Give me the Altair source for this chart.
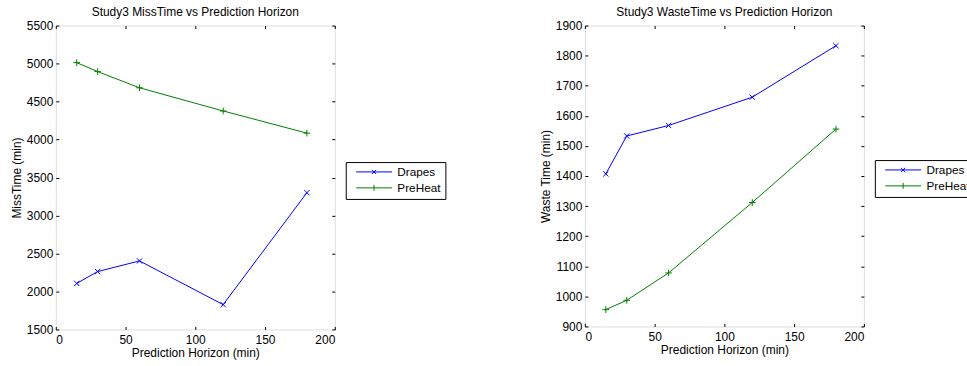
import altair as alt
import pandas as pd

# Prediction horizons (minutes) shared by both studies
horizon = [15, 30, 60, 120, 180]
series_names = ["Drapes", "PreHeat"]
series_colors = ["#0000ff", "#008000"]

# Study3 miss time (min)
miss_drapes = [2106, 2262, 2402, 1827, 3300]
miss_preheat = [5012, 4894, 4681, 4376, 4084]

# Study3 waste time (min)
waste_drapes = [1407, 1533, 1568, 1662, 1833]
waste_preheat = [956, 987, 1078, 1312, 1556]

FONT = "Liberation Sans"

# marker glyphs (unit square paths)
X_MARK = "M-1,-1L1,1M-1,1L1,-1"
PLUS_MARK = "M-1,0L1,0M0,-1L0,1"
# legend keys: a line segment with the marker in the middle (drawn wider than the
# nominal symbol box so the legend rows stay compact)
X_KEY = "M-3.6,0L3.6,0M-0.42,-0.42L0.42,0.42M-0.42,0.42L0.42,-0.42"
PLUS_KEY = "M-3.6,0L3.6,0M0,-0.6L0,0.6"
markers = [(X_MARK, 28), (PLUS_MARK, 44)]

TICK = 3


def panel(drapes, preheat, title, ytitle, ydomain, ystep, height, legend_y):
    df = pd.DataFrame({
        "horizon": horizon * 2,
        "value": drapes + preheat,
        "series": [series_names[0]] * len(horizon) + [series_names[1]] * len(horizon),
    })
    xs = alt.Scale(domain=[0, 200], nice=False, zero=False)
    ys = alt.Scale(domain=ydomain, nice=False, zero=False)
    yticks = list(range(ydomain[0], ydomain[1] + 1, ystep))
    xticks = [0, 50, 100, 150, 200]

    common_axis = dict(
        grid=False, domain=False, tickSize=TICK, offset=-TICK, tickColor="black",
        labelFont=FONT, labelFontSize=12, labelColor="black", format="d",
        titleFont=FONT, titleFontSize=12, titleFontWeight="normal", titleColor="black",
    )
    base = alt.Chart(df)

    layers = []
    for i, name in enumerate(series_names):
        sub = base.transform_filter(alt.datum.series == name)
        if i == 0:
            xenc = alt.X("horizon:Q", scale=xs, axis=alt.Axis(
                values=xticks, title="Prediction Horizon (min)", labelPadding=5, titlePadding=2,
                **common_axis))
            yenc = alt.Y("value:Q", scale=ys, axis=alt.Axis(
                values=yticks, title=ytitle, labelPadding=3, titlePadding=3, **common_axis))
        else:
            xenc = alt.X("horizon:Q", scale=xs, axis=None)
            yenc = alt.Y("value:Q", scale=ys, axis=None)
        layers.append(sub.mark_line(strokeWidth=1, color=series_colors[i]).encode(x=xenc, y=yenc))
        shape, size = markers[i]
        layers.append(sub.mark_point(
            shape=shape, size=size, filled=False, strokeWidth=1, opacity=1, color=series_colors[i]
        ).encode(x=alt.X("horizon:Q", scale=xs, axis=None), y=alt.Y("value:Q", scale=ys, axis=None)))

    legend_spec = dict(
        title=None, orient="none", legendX=280 + 11, legendY=legend_y,
        strokeColor="black", fillColor="white", padding=4,
        symbolSize=100, symbolStrokeWidth=1, symbolOpacity=1, symbolOffset=18.5,
        labelFont=FONT, labelFontSize=11.8, labelColor="black",
        labelOffset=17.5, rowPadding=3,
    )
    # invisible layer carrying the legend and the mirrored top/right tick axes
    legend_layer = base.mark_point(opacity=0, filled=False, strokeWidth=1, size=100).encode(
        x=alt.X("horizon:Q", scale=xs, axis=alt.Axis(
            orient="top", values=xticks, labels=False, title=None, **common_axis)),
        y=alt.Y("value:Q", scale=ys, axis=alt.Axis(
            orient="right", values=yticks, labels=False, title=None, **common_axis)),
        color=alt.Color("series:N", scale=alt.Scale(domain=series_names, range=series_colors),
                        legend=alt.Legend(**legend_spec)),
        shape=alt.Shape("series:N", scale=alt.Scale(domain=series_names, range=[X_KEY, PLUS_KEY]),
                        legend=alt.Legend(**legend_spec)),
    )
    layers.append(legend_layer)

    return alt.layer(*layers).resolve_axis(
        x="independent", y="independent"
    ).properties(
        width=280, height=height,
        title=alt.TitleParams(title, font=FONT, fontSize=12, fontWeight="normal", color="black", offset=1),
    )


left = panel(miss_drapes, miss_preheat, "Study3 MissTime vs Prediction Horizon",
             "MissTime (min)", [1500, 5500], 500, 305, 137)
right = panel(waste_drapes, waste_preheat, "Study3 WasteTime vs Prediction Horizon",
              "Waste Time (min)", [900, 1900], 100, 302, 135)

chart = alt.hconcat(left, right, spacing=92).resolve_scale(
    color="independent", shape="independent"
).configure_view(stroke="black", strokeWidth=1).configure(background="white").properties(
    padding={"left": 9, "top": 4, "right": -8.5, "bottom": 0}
)

chart.save("out.html", embed_options={"renderer": "svg", "actions": False})
